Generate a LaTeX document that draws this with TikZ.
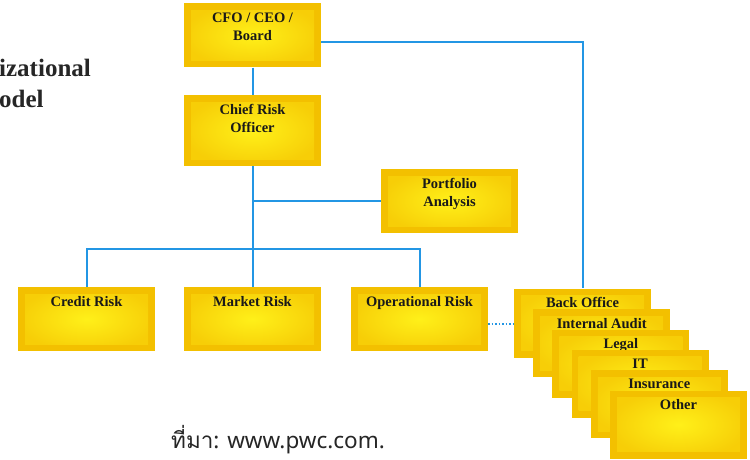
\documentclass[tikz,border=0pt]{standalone}
\usepackage{fontspec}
\setmainfont{Liberation Serif}
\newfontfamily\thaifont[Script=Thai]{Loma}
\newfontfamily\webfont{Noto Sans}
\usetikzlibrary{backgrounds}
\definecolor{gold}{RGB}{243,192,0}
\definecolor{sun}{RGB}{255,240,25}
\definecolor{wire}{RGB}{35,150,228}
\tikzset{
  box/.style={rectangle, minimum width=137pt, minimum height=64pt, inner sep=0pt, fill=gold,
    path picture={\shade[inner color=sun, outer color=gold!70!sun]
      ([shift={(7pt,7pt)}]path picture bounding box.south west) rectangle
      ([shift={(-7pt,-7pt)}]path picture bounding box.north east);},
    label={[lbl]north:#1}},
  lbl/.style={anchor=north, align=center, inner sep=0pt, yshift=-9pt, text=black!90,
    font=\bfseries\fontsize{14.5}{18}\selectfont},
  link/.style={draw=wire, line width=2pt},
  head/.style={anchor=base west, inner sep=0pt, text=black!85, font=\bfseries\fontsize{25}{30}\selectfont},
}
\begin{document}
\begin{tikzpicture}[node distance=95pt]
  \useasboundingbox (0,0) rectangle (750pt,-460pt);
  \node[head] (head1) at (-1pt,-77pt) {izational};
  \node[head] (head2) at (-1pt,-107pt) {odel};

  \node[box={CFO / CEO /\\Board}] (cfo) at (252.5pt,-35.5pt) {};
  \node[box={Chief Risk\\Officer}, minimum height=71pt, below of=cfo] (cro) {};
  \node[box={Portfolio\\Analysis}, right of=cro, xshift=102pt, yshift=-70.5pt] (portfolio) {};
  \node[box={Market Risk}, below of=cro, yshift=-93.5pt] (market) {};
  \node[box={Credit Risk}, left of=market, xshift=-71pt] (credit) {};
  \node[box={Operational Risk}, right of=market, xshift=72pt] (oprisk) {};
  \node[box={Back Office}, minimum height=69pt, right of=oprisk, xshift=68pt, yshift=-4pt] (back0) {};
  \foreach \txt [count=\i] in {Internal Audit, Legal, IT, Insurance, Other}
    \node[box=\txt, minimum height=68pt, xshift=\i*19.2pt, yshift=-\i*20.3pt] (back\i) at (back0) {};

  \node[anchor=base west, inner sep=0pt, text=black!85, font=\fontsize{22.5}{26}\selectfont]
    (source) at (171pt,-448pt) {{\thaifont ที่มา}{\webfont: www.pwc.com.}};

  \begin{scope}[on background layer]
    \fill[white] (0,0) rectangle (750pt,-460pt);
    \draw[link] (cfo) -- (cro);
    \draw[link] (cro) -- (market);
    \draw[link] (cro) |- (portfolio);
    \draw[link] (credit.north) -- ++(0,38pt) -| (oprisk.north);
    \draw[link] ([yshift=-7pt]cfo.east) -| (back0.north);
    \draw[draw=wire, line width=1.5pt, dotted] ([yshift=-5pt]oprisk.east) -- ([yshift=-1pt]back0.west);
  \end{scope}
\end{tikzpicture}
\end{document}
